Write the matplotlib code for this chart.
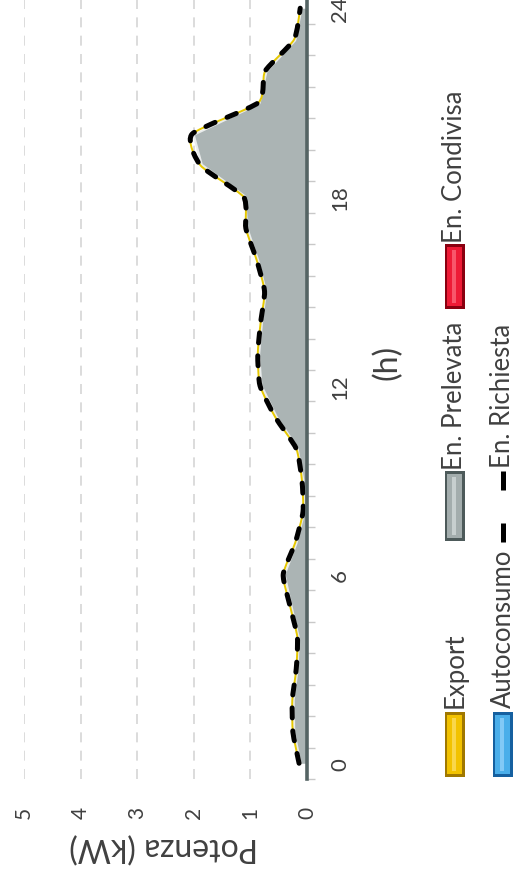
import numpy as np
import matplotlib
matplotlib.use("Agg")
import matplotlib.pyplot as plt
from matplotlib.path import Path
from matplotlib.patches import PathPatch, Rectangle
from matplotlib.lines import Line2D

plt.rcParams['font.family'] = ['Lato', 'DejaVu Sans']

# hourly power profile (kW), hours 0..24
hours = list(range(25))
richiesta = [0.14, 0.25, 0.26, 0.19, 0.17, 0.30, 0.42, 0.21, 0.07, 0.09, 0.19, 0.56, 0.83,
             0.87, 0.82, 0.75, 0.89, 1.08, 1.12, 1.88, 2.03, 0.86, 0.74, 0.23, 0.12]
prelevata = list(richiesta)
export = [0.0] * 25
autoconsumo = [0.0] * 25
condivisa = [0.0] * 25

hour_ticks = [0, 6, 12, 18, 24]
power_ticks = [0, 1, 2, 3, 4, 5]

legend_items = ["Export", "En. Prelevata", "En. Condivisa", "Autoconsumo", "En. Richiesta"]

TXT = '#404040'
W, H = 515, 879


def fx(px):
    return px / W


def fy(py):
    return 1 - py / H


def smooth_path(xs, ys, k=10.0):
    # catmull-rom style spline turned into cubic bezier segments
    pts = np.column_stack([xs, ys])
    p = np.vstack([pts[0], pts, pts[-1]])
    verts = [pts[0]]
    codes = [Path.MOVETO]
    for i in range(1, len(p) - 2):
        c1 = p[i] + (p[i + 1] - p[i - 1]) / k
        c2 = p[i + 1] - (p[i + 2] - p[i]) / k
        verts += [c1, c2, p[i + 1]]
        codes += [Path.CURVE4] * 3
    return Path(verts, codes)


fig = plt.figure(figsize=(W / 100, H / 100), dpi=100)
ax = fig.add_axes([fx(24), fy(780), fx(307) - fx(24), fy(-6.5) - fy(780)])

ax.set_xlim(5, 0)
ax.set_ylim(-0.5, 24.5)

# stacked areas
base = np.zeros(25)
for vals, col in [(export, '#f2c200'), (autoconsumo, '#4aaeea')]:
    top = base + np.array(vals)
    ax.fill_betweenx(hours, base, top, color=col, lw=0)
    base = top
top = base + np.array(prelevata)
poly = ax.fill_betweenx(hours, base, top, color='#abb4b4', lw=0, zorder=2)
# light bevel along the area border
edge, = ax.plot(top, hours, color='white', lw=3.5, alpha=0.75, zorder=2.5)
edge.set_clip_path(poly.get_paths()[0], ax.transData)
base = top
top = base + np.array(condivisa)
ax.fill_betweenx(hours, base, top, color='#ee1b36', lw=0)

# requested energy, smoothed
sp = smooth_path(richiesta, hours)
ax.add_patch(PathPatch(sp, fill=False, edgecolor='#e6c800', lw=1.4, zorder=3))
ax.add_patch(PathPatch(sp, fill=False, edgecolor='black', lw=3.6,
                       linestyle=(0, (2.0, 2.6)), capstyle='round', zorder=4))

# grid and axes
ax.set_xticks(power_ticks)
ax.set_xticklabels([str(v) for v in power_ticks], rotation=90, fontsize=15, color=TXT)
ax.tick_params(axis='x', length=0, pad=19)
ax.xaxis.grid(True, color='#d6d6d6', lw=1.2, linestyle=(0, (6, 5)))
ax.set_axisbelow(True)

ax.yaxis.tick_right()
ax.set_yticks(hour_ticks)
ax.set_yticklabels([str(v) for v in hour_ticks], rotation=90, va='center', fontsize=16, color=TXT)
ax.set_yticks(np.arange(-0.5, 24.6, 1), minor=True)
ax.tick_params(axis='y', which='major', length=0, pad=16.5)
ax.tick_params(axis='y', which='minor', length=6, width=1, color='#c8c8c8', right=True, left=False)

for s in ['top', 'bottom', 'left']:
    ax.spines[s].set_visible(False)
ax.spines['right'].set_color('#556464')
ax.spines['right'].set_linewidth(2.6)
ax.spines['right'].set_zorder(5)

fig.text(fx(164), fy(847), "Potenza (kW)", rotation=180, ha='center', va='center',
         fontsize=23, color=TXT)
fig.text(fx(387), fy(362), "(h)", rotation=90, ha='center', va='center', fontsize=23, color=TXT)


def swatch(cx, y0, y1, main, dark, light):
    w = 20
    fig.add_artist(Rectangle((fx(cx - w / 2), fy(y1)), w / W, (y1 - y0) / H,
                             transform=fig.transFigure, color=dark, lw=0))
    fig.add_artist(Rectangle((fx(cx - w / 2 + 2), fy(y1 - 3)), (w - 5) / W, (y1 - y0 - 6) / H,
                             transform=fig.transFigure, color=main, lw=0))
    fig.add_artist(Rectangle((fx(cx - 3), fy(y1 - 6)), 4 / W, (y1 - y0 - 12) / H,
                             transform=fig.transFigure, color=light, lw=0, alpha=0.6))


def label(cx, y, s):
    fig.text(fx(cx), fy(y), s, rotation=90, ha='center', va='bottom', fontsize=18.5, color=TXT)


# legend, first column
swatch(455, 713, 778, '#f2c200', '#a07800', '#ffe680')
label(455, 708, legend_items[0])
swatch(455, 472, 542, '#a3adad', '#4d5a5a', '#e0e6e6')
label(455, 470, legend_items[1])
swatch(455, 245, 310, '#ee1b36', '#8a0010', '#ff8090')
label(455, 243, legend_items[2])
# second column
swatch(503, 713, 778, '#4aaeea', '#1560a0', '#a8dcff')
label(503, 708, legend_items[3])
fig.add_artist(Line2D([fx(503), fx(503)], [fy(543), fy(472)], transform=fig.transFigure,
                      color='black', lw=3.6, linestyle=(0, (3.8, 6.6))))
label(503, 468, legend_items[4])

fig.savefig('out.png', dpi=100)
